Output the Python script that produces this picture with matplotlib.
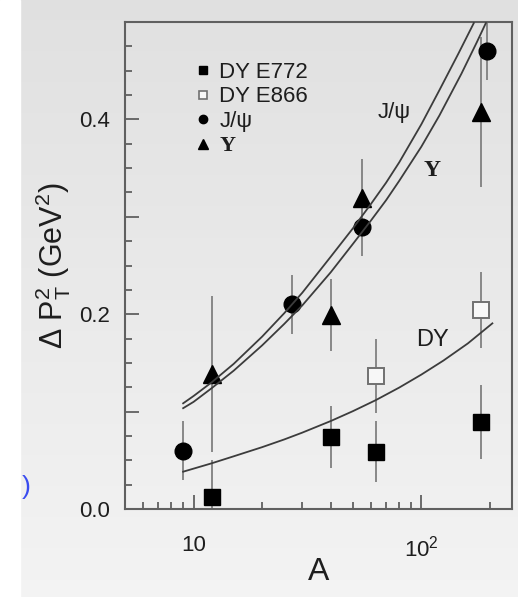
"""Transverse momentum broadening vs. nuclear mass number A (DY, J/psi, Upsilon)."""

import numpy as np
import matplotlib
matplotlib.use("Agg")
import matplotlib.pyplot as plt
from matplotlib.ticker import MultipleLocator, FuncFormatter, FixedLocator, NullFormatter
from matplotlib.lines import Line2D

plt.rcParams.update({
    "font.family": ["Liberation Sans", "DejaVu Sans"],
    "mathtext.fontset": "custom",
    "mathtext.rm": "Liberation Sans",
    "mathtext.it": "Liberation Sans:italic",
    "mathtext.bf": "Liberation Sans:bold",
})

# ---- measured points: A, <delta pT^2> [GeV^2], error
e772_A = [12, 40, 63, 182]
e772_dpt2 = [0.012, 0.074, 0.059, 0.089]
e772_err = [0.038, 0.032, 0.031, 0.038]

e866_A = [63, 182]
e866_dpt2 = [0.137, 0.204]
e866_err = [0.038, 0.039]

jpsi_A = [9, 27, 55, 194]
jpsi_dpt2 = [0.060, 0.210, 0.290, 0.470]
jpsi_err = [0.030, 0.030, 0.030, 0.030]

ups_A = [12, 40, 55, 182]
ups_dpt2 = [0.139, 0.199, 0.319, 0.408]
ups_err = [0.080, 0.037, 0.040, 0.077]

# ---- model curves
jpsi_curve_A = [9, 10, 12, 15, 20, 25, 30, 40, 50, 60, 70, 80, 100, 120, 145, 170]
jpsi_curve = [0.1085, 0.116, 0.130, 0.149, 0.177, 0.201, 0.222, 0.259, 0.288,
              0.313, 0.335, 0.356, 0.395, 0.430, 0.467, 0.499]

ups_curve_A = [9, 10, 12, 15, 20, 25, 30, 40, 50, 60, 70, 80, 100, 120, 150, 175, 192]
ups_curve = [0.1035, 0.110, 0.124, 0.142, 0.168, 0.190, 0.209, 0.243, 0.272,
             0.296, 0.317, 0.337, 0.372, 0.404, 0.447, 0.479, 0.499]

dy_curve_A = [9, 12, 15, 20, 25, 30, 40, 50, 63, 80, 100, 125, 160, 205]
dy_curve = [0.0383, 0.0469, 0.0541, 0.0635, 0.0714, 0.0784, 0.0903, 0.1004,
            0.1117, 0.1247, 0.1380, 0.1524, 0.1700, 0.1906]

W, H = 518, 597
fig = plt.figure(figsize=(W / 100, H / 100), dpi=100)

# screen-grab style backdrop: light grey gradient, white strip on the left
bg = fig.add_axes([0, 0, 1, 1], zorder=-10)
grad = np.linspace(0.88, 0.955, 256)[:, None]
bg.imshow(np.dstack([grad, grad, grad]), aspect="auto", extent=[0, 1, 0, 1],
          origin="upper")
bg.add_patch(plt.Rectangle((0, 0), 20 / W, 1, color="white", zorder=2))
bg.set_xlim(0, 1); bg.set_ylim(0, 1); bg.axis("off")
fig.text(26 / W, 1 - 487 / H, ")", color="#3a4cf0", fontsize=19,
         ha="center", va="center")

ax = fig.add_axes([125 / W, 1 - 509 / H, (512 - 125) / W, (509 - 22) / H])
ax.patch.set_alpha(0)
ax.set_xscale("log")
ax.set_xlim(5, 250)
ax.set_ylim(0, 0.5)

ebar = dict(ls="none", ecolor="#808080", elinewidth=1.3, capsize=0, zorder=2)
ax.errorbar(e772_A, e772_dpt2, yerr=e772_err, marker="s", ms=12, mfc="black",
            mec="black", **ebar)
ax.errorbar(e866_A, e866_dpt2, yerr=e866_err, marker="s", ms=12, mfc="#f7f7f7",
            mec="#707070", mew=1.4, **ebar)
ax.errorbar(jpsi_A, jpsi_dpt2, yerr=jpsi_err, marker="o", ms=12, mfc="black",
            mec="black", **ebar)
ax.errorbar(ups_A, ups_dpt2, yerr=ups_err, marker="^", ms=13, mfc="black",
            mec="black", **ebar)

lc = "#3c3c3c"
ax.plot(jpsi_curve_A, jpsi_curve, color=lc, lw=1.3, zorder=3)
ax.plot(ups_curve_A, ups_curve, color=lc, lw=1.3, zorder=3)
ax.plot(dy_curve_A, dy_curve, color=lc, lw=1.3, zorder=3)

tc = "#1e1e1e"
ax.text(76, 0.407, "J/ψ", fontsize=16, color=tc, ha="center", va="center")
ax.text(111, 0.348, "Υ", fontsize=17, color=tc, ha="center", va="center",
        family=["Liberation Serif", "DejaVu Serif"], fontweight="bold")
ax.text(112, 0.1735, "DY", fontsize=17, color=tc, ha="center", va="center")

handles = [
    Line2D([], [], ls="none", marker="s", ms=6, mfc="black", mec="black"),
    Line2D([], [], ls="none", marker="s", ms=6, mfc="#f7f7f7", mec="#707070", mew=1.2),
    Line2D([], [], ls="none", marker="o", ms=6, mfc="black", mec="black"),
    Line2D([], [], ls="none", marker="^", ms=7, mfc="black", mec="black"),
]
leg = ax.legend(handles, ["DY E772", "DY E866", "J/ψ", "Υ"], loc="upper left",
                bbox_to_anchor=(0.155, 0.937), frameon=False, fontsize=16,
                handlelength=0.8, handletextpad=0.35, labelspacing=0.17,
                borderaxespad=0)
for t in leg.get_texts():
    t.set_color(tc)
leg.get_texts()[3].set_fontfamily(["Liberation Serif", "DejaVu Serif"])
leg.get_texts()[3].set_fontweight("bold")

# axis ticks
ax.yaxis.set_major_locator(MultipleLocator(0.1))
ax.yaxis.set_minor_locator(MultipleLocator(0.025))
ax.yaxis.set_major_formatter(FuncFormatter(
    lambda v, _: f"{v:.1f}" if round(v * 10) % 2 == 0 else ""))
ax.xaxis.set_major_locator(FixedLocator([10, 100]))
ax.set_xticklabels(["10", "$10^2$"])
ax.xaxis.set_minor_locator(FixedLocator([5, 6, 7, 8, 9, 20, 30, 40, 50, 60,
                                         70, 80, 90, 200]))
ax.xaxis.set_minor_formatter(NullFormatter())
ax.tick_params(which="both", direction="in", color="#555555", width=1.2,
               top=False, right=False, labelsize=16, labelcolor=tc)
ax.tick_params(which="major", length=10)
ax.tick_params(which="minor", length=5)
ax.tick_params(axis="y", pad=11)
ax.tick_params(axis="x", pad=19)
for s in ax.spines.values():
    s.set_color("#606060")
    s.set_linewidth(1.5)

ax.set_xlabel("A", fontsize=23, color=tc, labelpad=-3)
ax.set_ylabel(r"$\Delta$ P$_\mathrm{T}^2$ (GeV$^2$)", fontsize=22, color=tc,
              labelpad=4)

fig.savefig("out.png", dpi=100)
